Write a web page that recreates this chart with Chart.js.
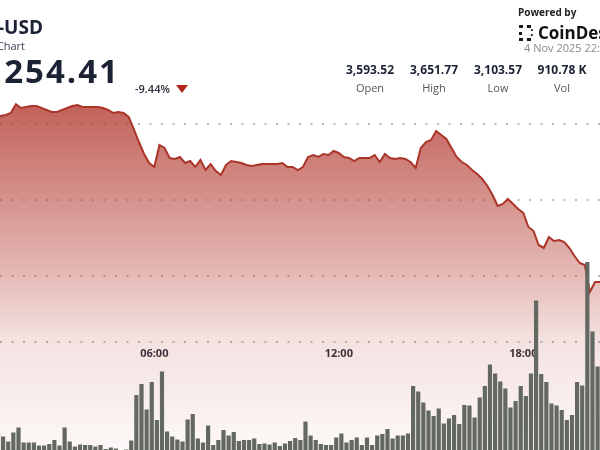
<!DOCTYPE html>
<html>
<head>
<meta charset="utf-8">
<script src="https://cdn.jsdelivr.net/npm/chart.js@4.4.1/dist/chart.umd.min.js"></script>
<style>
  html, body { margin: 0; padding: 0; background: #fff; }
  body { width: 600px; height: 450px; overflow: hidden; position: relative; font-family: "Open Sans", sans-serif; color: #1b2233; }
  .t { position: absolute; white-space: nowrap; line-height: 1; }
  #chartBox { position: absolute; left: 0; top: 0; width: 600px; height: 452px; }
  .stat { position: absolute; width: 64px; text-align: center; }
</style>
</head>
<body>
<div id="chartBox"><canvas id="ethChart" width="600" height="452"></canvas></div>

<div class="t" style="right:557px; top:18px; font-size:19px; font-weight:700;">ETH-USD</div>
<div class="t" style="right:575px; top:40px; font-size:11px; color:#3a4050;">24H Chart</div>
<div class="t" style="right:480px; top:54px; font-size:33px; font-weight:700; letter-spacing:2px;">3,254.41</div>
<div class="t" style="left:135px; top:83px; font-size:11px; font-weight:600; color:#2a2f3a;">-9.44%</div>
<div style="position:absolute; left:176px; top:85px; width:0; height:0; border-left:6.5px solid transparent; border-right:6.5px solid transparent; border-top:8px solid #b3261e;"></div>

<div class="t" style="left:518px; top:7px; font-size:10px; font-weight:700; color:#222;">Powered by</div>
<div style="position:absolute; left:519px; top:25px; width:9px; height:10px; border:3px dotted #1a1a1a; border-right:none;"></div>
<div class="t" style="left:530px; top:25px; font-size:13px; font-weight:700; color:#1a1a1a;">:</div>
<div class="t" style="left:538px; top:24px; font-size:17px; font-weight:700; color:#111;">CoinDesk</div>
<div class="t" style="left:524px; top:41.5px; font-size:11px; color:#8a8a8a;">4 Nov 2025 22:55 UTC</div>

<div class="t stat" style="left:338px; top:64.3px; font-size:12px; font-weight:700;">3,593.52</div>
<div class="t stat" style="left:402px; top:64.3px; font-size:12px; font-weight:700;">3,651.77</div>
<div class="t stat" style="left:466px; top:64.3px; font-size:12px; font-weight:700;">3,103.57</div>
<div class="t stat" style="left:530px; top:64.3px; font-size:12px; font-weight:700;">910.78 K</div>
<div class="t stat" style="left:338px; top:81.5px; font-size:11px; color:#555;">Open</div>
<div class="t stat" style="left:402px; top:81.5px; font-size:11px; color:#555;">High</div>
<div class="t stat" style="left:466px; top:81.5px; font-size:11px; color:#555;">Low</div>
<div class="t stat" style="left:530px; top:81.5px; font-size:11px; color:#555;">Vol</div>

<script>
  // ---- Data (4 Nov 2025, 10-minute intervals) ----------------
  const times = [
    '00:50',
    '01:00', '01:10', '01:20', '01:30', '01:40', '01:50',
    '02:00', '02:10', '02:20', '02:30', '02:40', '02:50',
    '03:00', '03:10', '03:20', '03:30', '03:40', '03:50',
    '04:00', '04:10', '04:20', '04:30', '04:40', '04:50',
    '05:00', '05:10', '05:20', '05:30', '05:40', '05:50',
    '06:00', '06:10', '06:20', '06:30', '06:40', '06:50',
    '07:00', '07:10', '07:20', '07:30', '07:40', '07:50',
    '08:00', '08:10', '08:20', '08:30', '08:40', '08:50',
    '09:00', '09:10', '09:20', '09:30', '09:40', '09:50',
    '10:00', '10:10', '10:20', '10:30', '10:40', '10:50',
    '11:00', '11:10', '11:20', '11:30', '11:40', '11:50',
    '12:00', '12:10', '12:20', '12:30', '12:40', '12:50',
    '13:00', '13:10', '13:20', '13:30', '13:40', '13:50',
    '14:00', '14:10', '14:20', '14:30', '14:40', '14:50',
    '15:00', '15:10', '15:20', '15:30', '15:40', '15:50',
    '16:00', '16:10', '16:20', '16:30', '16:40', '16:50',
    '17:00', '17:10', '17:20', '17:30', '17:40', '17:50',
    '18:00', '18:10', '18:20', '18:30', '18:40', '18:50',
    '19:00', '19:10', '19:20', '19:30', '19:40', '19:50',
    '20:00', '20:10', '20:20', '20:30', '20:40',
  ];

  // price in USD
  const prices = [
    3615.8,
    3621.1, 3623.7, 3628.9, 3651.8, 3642.1, 3644.7,
    3647.4, 3647.4, 3642.1, 3636.8, 3631.6, 3631.6,
    3636.8, 3642.1, 3647.4, 3650.0, 3644.7, 3644.7,
    3644.7, 3644.7, 3642.1, 3636.8, 3628.9, 3631.6,
    3628.9, 3618.4, 3586.8, 3552.6, 3521.1, 3497.4,
    3486.8, 3544.7, 3536.8, 3510.5, 3507.9, 3513.2,
    3497.4, 3502.6, 3486.8, 3505.3, 3478.9, 3494.7,
    3476.3, 3465.8, 3492.1, 3502.6, 3500.0, 3497.4,
    3492.1, 3489.5, 3492.1, 3494.7, 3494.7, 3494.7,
    3494.7, 3497.4, 3486.8, 3486.8, 3478.9, 3486.8,
    3513.2, 3518.4, 3513.2, 3521.1, 3518.4, 3528.9,
    3523.7, 3513.2, 3510.5, 3502.6, 3510.5, 3510.5,
    3510.5, 3518.4, 3500.0, 3521.1, 3510.5, 3507.9,
    3510.5, 3507.9, 3500.0, 3484.2, 3536.8, 3552.6,
    3557.9, 3581.6, 3571.1, 3560.5, 3536.8, 3513.2,
    3500.0, 3492.1, 3478.9, 3468.4, 3455.3, 3436.8,
    3413.2, 3384.2, 3389.5, 3402.6, 3389.5, 3376.3,
    3365.8, 3328.9, 3318.4, 3281.6, 3273.7, 3302.6,
    3292.1, 3294.7, 3289.5, 3273.7, 3252.6, 3234.2,
    3228.9, 3157.9, 3184.2, 3184.2, 3186.8,
  ];

  // volume in thousand ETH
  const volumes = [
    4.4,
    3.1, 2.1, 3.9, 4.9, 1.9, 1.9,
    1.9, 1.3, 1.3, 1.6, 2.4, 1.3,
    4.9, 2.1, 1.1, 1.5, 1.4, 1.4,
    1.1, 1.4, 0.6, 0.9, 0.7, 0.4,
    0.5, 2.3, 11.4, 13.6, 8.5, 14.0,
    6.4, 16.1, 4.1, 3.1, 2.5, 2.1,
    6.5, 7.6, 2.7, 1.9, 5.3, 1.4,
    2.4, 4.4, 3.3, 4.0, 2.2, 2.4,
    2.4, 2.7, 1.6, 1.7, 1.5, 1.9,
    1.2, 1.7, 2.2, 2.8, 2.4, 6.1,
    3.3, 2.4, 1.6, 1.4, 1.4, 2.9,
    3.7, 1.9, 2.4, 2.9, 1.4, 2.9,
    1.4, 3.3, 3.6, 4.6, 2.7, 3.3,
    3.3, 3.7, 13.2, 12.1, 9.9, 8.3,
    7.2, 8.7, 5.7, 6.7, 7.4, 5.6,
    9.4, 9.3, 6.9, 10.9, 13.2, 17.5,
    15.7, 14.1, 12.7, 8.9, 10.2, 13.2,
    11.2, 15.7, 30.3, 15.6, 14.0, 9.7,
    9.3, 8.4, 6.4, 7.4, 14.0, 13.3,
    38.0, 24.1, 17.1,
  ];

  const tickTimes = ['06:00', '12:00', '18:00'];
  const gridPrices = [3026.3, 3200, 3400, 3600];

  // ---- Chart -----------------------------------------------
  const toMin = (t) => +t.slice(0, 2) * 60 + +t.slice(3, 5);
  const fmtMin = (m) => String(Math.floor(m / 60)).padStart(2, '0') + ':' + String(m % 60).padStart(2, '0');

  const priceData = prices.map((p, i) => ({ x: toMin(times[i]), y: p }));
  const volumeData = volumes.map((v, i) => ({ x: toMin(times[i]) + 5, y: v }));

  function areaFill(ctx) {
    const chart = ctx.chart;
    const ca = chart.chartArea;
    if (!ca) return 'rgba(180,60,50,0.4)';
    const g = chart.ctx.createLinearGradient(0, 100, 0, ca.bottom);
    g.addColorStop(0, 'rgba(180,60,50,0.82)');
    g.addColorStop(0.483, 'rgba(180,60,50,0.37)');
    g.addColorStop(0.682, 'rgba(180,60,50,0.15)');
    g.addColorStop(1, 'rgba(180,60,50,0.03)');
    return g;
  }

  new Chart(document.getElementById('ethChart'), {
    type: 'bar',
    data: {
      datasets: [
        {
          type: 'line',
          label: 'Price',
          data: priceData,
          borderColor: '#ab3529',
          borderWidth: 2,
          backgroundColor: areaFill,
          fill: 'start',
          pointRadius: 0,
          tension: 0,
          yAxisID: 'y',
          order: 1,
        },
        {
          type: 'bar',
          label: 'Volume',
          data: volumeData,
          backgroundColor: '#646862',
          borderWidth: 0,
          barPercentage: 0.82,
          categoryPercentage: 1,
          yAxisID: 'y1',
          order: 0,
        },
      ],
    },
    options: {
      responsive: false,
      animation: false,
      devicePixelRatio: 1,
      layout: { padding: 0 },
      plugins: { legend: { display: false }, tooltip: { enabled: false } },
      scales: {
        x: {
          type: 'linear',
          min: 58.9,
          max: 1229.7,
          offset: false,
          position: { y: 3026.3 },
          afterBuildTicks: (s) => { s.ticks = tickTimes.map((t) => ({ value: toMin(t) })); },
          grid: { display: false, drawTicks: false, offset: false },
          border: { display: false },
          ticks: {
            padding: 5,
            maxRotation: 0,
            autoSkip: false,
            color: '#2b303b',
            font: { family: 'Open Sans', size: 11, weight: 'bold' },
            callback: (v) => fmtMin(v),
          },
        },
        y: {
          position: 'left',
          min: 2736.8,
          max: 3926.3,
          afterBuildTicks: (s) => { s.ticks = gridPrices.map((v) => ({ value: v })); },
          ticks: { display: false },
          grid: { color: 'rgba(150,150,150,0.65)', lineWidth: 2, drawTicks: false },
          border: { display: false, dash: [2, 9.5] },
        },
        y1: {
          display: false,
          min: 0,
          max: 90.4,
        },
      },
    },
  });
</script>
</body>
</html>
